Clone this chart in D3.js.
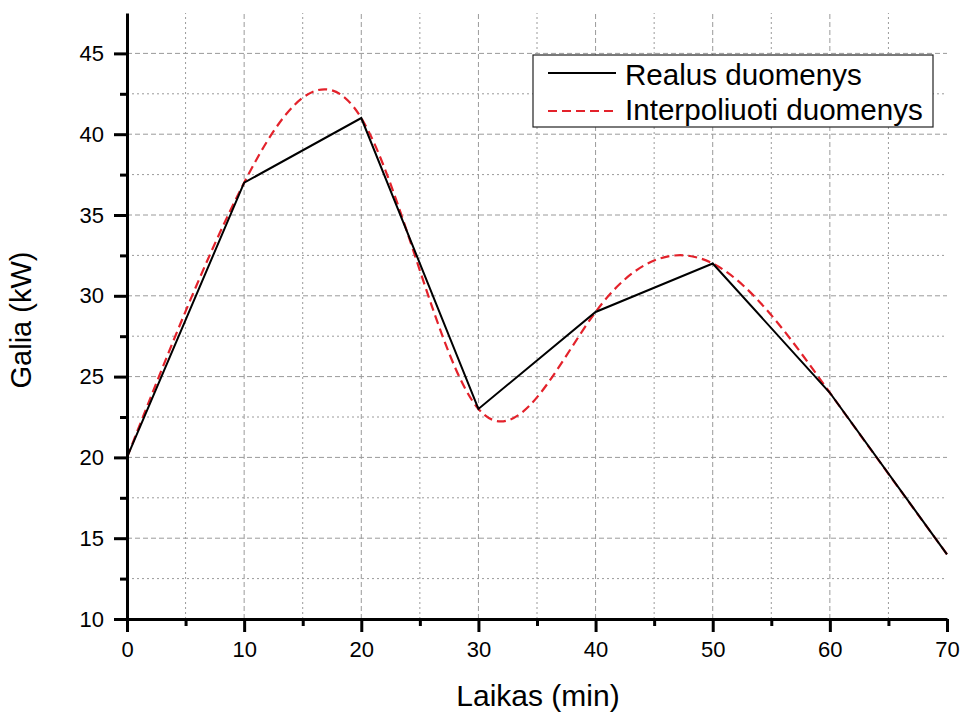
<!DOCTYPE html>
<html><head><meta charset="utf-8">
<script src="https://cdn.jsdelivr.net/npm/d3@7"></script>
<style>body{margin:0;background:#fff;} text{font-family:Arial,"Liberation Sans",sans-serif;}</style>
</head><body><svg id="c" width="963" height="713"></svg>
<script>
const timeMin = [0, 10, 20, 30, 40, 50, 60, 70];
const realPower = [20, 37, 41, 23, 29, 32, 24, 14];
const interpKnots = [20, 37, 41, 23, 29, 32, 24, 14];
const xTicks = [0, 10, 20, 30, 40, 50, 60, 70];
const yTicks = [10, 15, 20, 25, 30, 35, 40, 45];
const xMinor = [5, 15, 25, 35, 45, 55, 65];
const yMinor = [12.5, 17.5, 22.5, 27.5, 32.5, 37.5, 42.5];
const seriesNames = ["Realus duomenys", "Interpoliuoti duomenys"];

const svg = d3.select("#c");
const x = d3.scaleLinear().domain([0, 70]).range([127, 947]);
const y = d3.scaleLinear().domain([10, 47.5]).range([619, 13]);
const red = "#e3222b";

// grid
const g = svg.append("g");
g.selectAll(".vmaj").data(xTicks.filter(d => d > 0 && d < 70)).enter().append("line")
  .attr("x1", d => x(d)).attr("x2", d => x(d)).attr("y1", y(10)).attr("y2", y(47.5))
  .attr("stroke", "#9a9a9a").attr("stroke-width", 1).attr("stroke-dasharray", "5,3");
g.selectAll(".vmin").data(xMinor).enter().append("line")
  .attr("x1", d => x(d)).attr("x2", d => x(d)).attr("y1", y(10)).attr("y2", y(47.5))
  .attr("stroke", "#9a9a9a").attr("stroke-width", 1).attr("stroke-dasharray", "2,3");
g.selectAll(".hmaj").data(yTicks.filter(d => d > 10)).enter().append("line")
  .attr("y1", d => y(d)).attr("y2", d => y(d)).attr("x1", x(0)).attr("x2", x(70))
  .attr("stroke", "#9a9a9a").attr("stroke-width", 1).attr("stroke-dasharray", "5,3");
g.selectAll(".hmin").data(yMinor).enter().append("line")
  .attr("y1", d => y(d)).attr("y2", d => y(d)).attr("x1", x(0)).attr("x2", x(70))
  .attr("stroke", "#9a9a9a").attr("stroke-width", 1).attr("stroke-dasharray", "2,3");

// lines
const pts = timeMin.map((t, i) => [t, realPower[i]]);
const ipts = timeMin.map((t, i) => [t, interpKnots[i]]);
svg.append("path").datum(ipts)
  .attr("d", d3.line().x(d => x(d[0])).y(d => y(d[1])).curve(d3.curveNatural))
  .attr("fill", "none").attr("stroke", red).attr("stroke-width", 2.2).attr("stroke-dasharray", "9,5");
svg.append("path").datum(pts)
  .attr("d", d3.line().x(d => x(d[0])).y(d => y(d[1])))
  .attr("fill", "none").attr("stroke", "#000").attr("stroke-width", 2);

// axes
function styleAxis(sel) {
  sel.attr("font-size", null).attr("font-family", null);
  sel.select(".domain").attr("stroke-width", 3).attr("stroke", "#000");
  sel.selectAll(".tick line").attr("stroke-width", 3).attr("stroke", "#000");
  sel.selectAll("text").style("font-size", "22px").attr("fill", "#000").style("font-family", "Arial, 'Liberation Sans', sans-serif");
}
const xAx = svg.append("g").attr("transform", `translate(0,${y(10)})`)
  .call(d3.axisBottom(x).tickValues(xTicks).tickSize(13).tickSizeOuter(0).tickPadding(9).tickFormat(d3.format("d")));
styleAxis(xAx);
svg.append("g").attr("transform", `translate(0,${y(10)})`)
  .call(d3.axisBottom(x).tickValues(xMinor).tickSize(7).tickFormat(""))
  .call(s => { s.select(".domain").remove(); s.selectAll(".tick line").attr("stroke-width", 3); });
const yAx = svg.append("g").attr("transform", `translate(${x(0)},0)`)
  .call(d3.axisLeft(y).tickValues(yTicks).tickSize(13).tickSizeOuter(0).tickPadding(10).tickFormat(d3.format("d")));
styleAxis(yAx);
svg.append("g").attr("transform", `translate(${x(0)},0)`)
  .call(d3.axisLeft(y).tickValues(yMinor).tickSize(7).tickFormat(""))
  .call(s => { s.select(".domain").remove(); s.selectAll(".tick line").attr("stroke-width", 3); });

// titles
svg.append("text").attr("x", 538).attr("y", 706).attr("text-anchor", "middle")
  .style("font-size", "30px").text("Laikas (min)");
svg.append("text").attr("transform", `translate(31,${(y(10) + y(47.5)) / 2 + 4}) rotate(-90)`)
  .attr("text-anchor", "middle").style("font-size", "29px").text("Galia (kW)");

// legend
const lg = svg.append("g");
lg.append("rect").attr("x", 533).attr("y", 55).attr("width", 400).attr("height", 72)
  .attr("fill", "#fff").attr("stroke", "#222").attr("stroke-width", 1.2);
lg.append("line").attr("x1", 548).attr("x2", 616).attr("y1", 73).attr("y2", 73)
  .attr("stroke", "#000").attr("stroke-width", 2);
lg.append("line").attr("x1", 548).attr("x2", 616).attr("y1", 111).attr("y2", 111)
  .attr("stroke", red).attr("stroke-width", 2.2).attr("stroke-dasharray", "9,5");
lg.append("text").attr("x", 625).attr("y", 85).style("font-size", "29.6px").text(seriesNames[0]);
lg.append("text").attr("x", 625).attr("y", 120).style("font-size", "29.6px").text(seriesNames[1]);
</script></body></html>
